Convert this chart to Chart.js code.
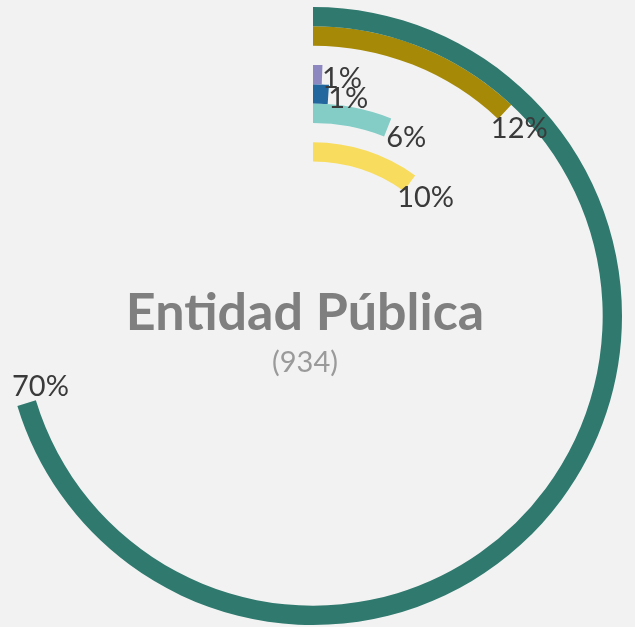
<!DOCTYPE html>
<html>
<head>
<meta charset="utf-8">
<script src="https://cdn.jsdelivr.net/npm/chart.js@4"></script>
<style>
  html, body { margin: 0; padding: 0; background: #f2f2f2; }
  #wrap { width: 635px; height: 627px; position: relative; }
</style>
</head>
<body>
<div id="wrap"><canvas id="c" width="635" height="627"></canvas></div>
<script>
// Ring values (outer to inner), percent of 934 public entities
const ringNames  = ['R1', 'R2', 'R3', 'R4', 'R5', 'R6', 'R7', 'R8'];
const ringValues = [70.3, 12.0, 0, 0.6, 1.1, 6.0, 0, 10.0];
const ringColors = ['#2f796e', '#a68907', 'rgba(0,0,0,0)', '#8d88c0', '#23679f', '#83cdc6', 'rgba(0,0,0,0)', '#f8dc5d'];
const centerTitle = 'Entidad Pública';
const centerCount = '(934)';

const datasets = ringValues.map((v, i) => ({
  label: ringNames[i],
  data: [v, 100 - v],
  backgroundColor: [ringColors[i], 'rgba(0,0,0,0)'],
  borderWidth: 0,
  hoverOffset: 0
}));

const labelPlugin = {
  id: 'ringLabels',
  afterDatasetsDraw(chart) {
    const ctx = chart.ctx;
    ctx.save();
    ctx.font = '29px Lato, "Open Sans", sans-serif';
    ctx.fillStyle = '#3a3a3a';
    ctx.textAlign = 'center';
    ctx.textBaseline = 'middle';
    chart.data.datasets.forEach((ds, i) => {
      const v = ringValues[i];
      if (!v) return;
      const arc = chart.getDatasetMeta(i).data[0];
      const r = (arc.innerRadius + arc.outerRadius) / 2;
      const a = arc.endAngle;
      const ex = arc.x + r * Math.cos(a);
      const ey = arc.y + r * Math.sin(a);
      const off = 20;
      let tx = ex - off * Math.sin(a);
      const ty = ey + off * Math.cos(a) + 3;
      const txt = Math.round(v) + '%';
      const w = ctx.measureText(txt).width;
      tx = Math.max(tx, 12 + w / 2);
      ctx.fillText(txt, tx, ty);
    });
    // center text
    const cx = (chart.chartArea.left + chart.chartArea.right) / 2 - 8;
    const cy = (chart.chartArea.top + chart.chartArea.bottom) / 2;
    ctx.fillStyle = '#7f7f7f';
    ctx.font = 'bold 52px Lato, "Open Sans", sans-serif';
    ctx.fillText(centerTitle, cx, cy - 3);
    ctx.fillStyle = '#9a9a9a';
    ctx.font = '29px Lato, "Open Sans", sans-serif';
    ctx.fillText(centerCount, cx, cy + 47);
    ctx.restore();
  }
};

new Chart(document.getElementById('c'), {
  type: 'doughnut',
  data: { labels: ['value', 'rest'], datasets },
  options: {
    responsive: false,
    animation: false,
    cutout: '50%',
    layout: { padding: { left: 0, right: 9, top: 7, bottom: 2 } },
    plugins: { legend: { display: false }, tooltip: { enabled: false } },
    events: []
  },
  plugins: [labelPlugin]
});
</script>
</body>
</html>
